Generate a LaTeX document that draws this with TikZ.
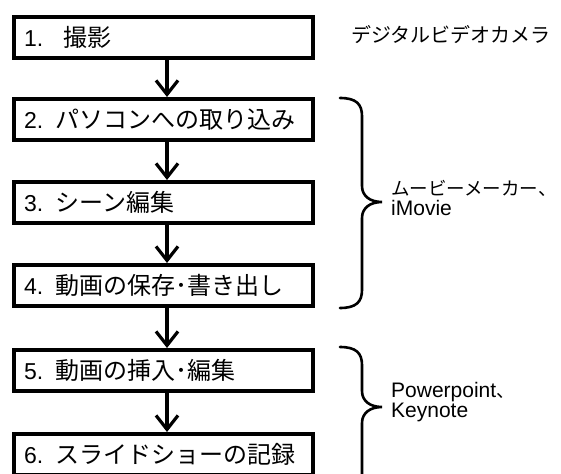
\documentclass[tikz,border=0pt]{standalone}
\usepackage{fontspec}
\setmainfont{Liberation Sans}
\newfontfamily\jp{Noto Sans CJK JP}
\usetikzlibrary{arrows.meta}
\newcommand{\bj}{\jp\fontsize{24}{26}\selectfont}
\newcommand{\sj}{\jp\fontsize{18.5}{21}\selectfont}
\begin{document}
\begin{tikzpicture}[x=1pt,y=-1pt,
  stepbox/.style={draw=black, line width=4pt, fill=white, minimum width=299pt, minimum height=41pt,
    inner xsep=10pt, inner ysep=0pt, text width=279pt, align=left,
    font=\fontsize{23}{26}\selectfont},
  flow/.style={line width=3.2pt, -{Straight Barb[length=14pt,width=22pt]}},
  brace/.style={line width=2.6pt, line cap=round},
  side/.style={anchor=west, inner sep=0pt, align=left, font=\fontsize{21}{20.5}\selectfont}]
\useasboundingbox (0,0) rectangle (561,473);
\clip (0,0) rectangle (561,473);
\fill[white] (0,0) rectangle (561,473);

\node[stepbox] (b1) at (163.5,37.5) {1.\hspace{20pt}{\bj 撮影}};
\node[stepbox] (b2) at (163.5,119.5) {2.\hspace{12pt}{\bj パソコンへの取り込み}};
\node[stepbox] (b3) at (163.5,202.5) {3.\hspace{12pt}{\bj シーン編集}};
\node[stepbox] (b4) at (163.5,285.5) {4.\hspace{12pt}{\bj 動画の保存･書き出し}};
\node[stepbox] (b5) at (163.5,370.5) {5.\hspace{12pt}{\bj 動画の挿入･編集}};
\node[stepbox] (b6) at (163.5,454.5) {6.\hspace{12pt}{\bj スライドショーの記録}};

\draw[flow] ([xshift=3.5pt,yshift=2pt]b1.south) -- ([xshift=3.5pt]b2.north);
\draw[flow] ([xshift=3.5pt,yshift=2pt]b2.south) -- ([xshift=3.5pt]b3.north);
\draw[flow] ([xshift=3.5pt,yshift=2pt]b3.south) -- ([xshift=3.5pt]b4.north);
\draw[flow] ([xshift=3.5pt,yshift=2pt]b4.south) -- ([xshift=3.5pt]b5.north);
\draw[flow] ([xshift=3.5pt,yshift=2pt]b5.south) -- ([xshift=3.5pt]b6.north);

\node[side] (t1) at (351,35) {\jp\fontsize{20}{21}\selectfont デジタルビデオカメラ};
\node[side] (t2) at (391,198) {{\sj ムービーメーカー、}\\iMovie};
\node[side] (t3) at (391,402) {Powerpoint{\sj 、}\\Keynote};

\coordinate (tip1) at (382,202);
\coordinate (tip2) at (382,407);
\draw[brace] (340,98) .. controls (356,98) and (362,104) .. (362,116) -- (362,186)
  .. controls (362,196) and (370,202) .. (tip1)
  .. controls (370,202) and (362,208) .. (362,218) -- (362,290)
  .. controls (362,302) and (356,308) .. (340,308);
\draw[brace] (340,347) .. controls (356,347) and (362,353) .. (362,365) -- (362,391)
  .. controls (362,401) and (370,407) .. (tip2)
  .. controls (370,407) and (362,413) .. (362,423) -- (362,490);
\end{tikzpicture}
\end{document}
